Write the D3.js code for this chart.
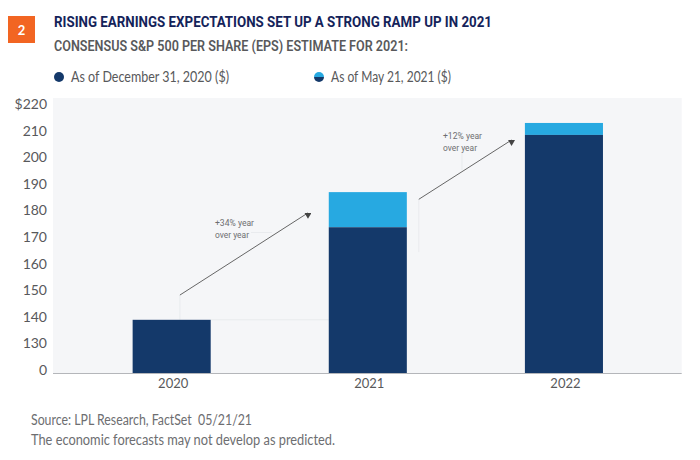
<!DOCTYPE html>
<html><head><meta charset="utf-8">
<script src="https://cdnjs.cloudflare.com/ajax/libs/d3/7.8.5/d3.min.js"></script>
<style>html,body{margin:0;padding:0;background:#fff}svg{display:block}text{font-family:Lato,sans-serif}</style>
</head><body><div id="c"></div>
<script>
const categories = ["2020","2021","2022"];
const december = [140, 174.8, 209.5];
const may = [140, 188, 214];
const tickValues = [120,130,140,150,160,170,180,190,200,210,220];
const tickLabels = ["0","130","140","150","160","170","180","190","200","210","$220"];
const titleText = "RISING EARNINGS EXPECTATIONS SET UP A STRONG RAMP UP IN 2021";
const subtitleText = "CONSENSUS S&P 500 PER SHARE (EPS) ESTIMATE FOR 2021:";
const legendLabels = ["As of December 31, 2020 ($)","As of May 21, 2021 ($)"];
const sourceLines = ["Source: LPL Research, FactSet  05/21/21","The economic forecasts may not develop as predicted."];
const arrowLabels = [["+34% year","over year"],["+12% year","over year"]];
const arrowFrom = [[0.042,149.3],[1.26,185.3]];
const arrowTo = [[0.695,180.2],[1.733,207.6]];
const navy="#14396a", sky="#27a9e1";

const svg=d3.select("#c").append("svg").attr("width",700).attr("height",460);
const y=d3.scaleLinear().domain([120,220]).range([373,107]);
const x=d3.scaleBand().domain(categories).range([73.6,662]).paddingInner(0.602).paddingOuter(0.301);
const pos=d3.scaleLinear().domain([0,2]).range([x("2020")+x.bandwidth()/2,x("2022")+x.bandwidth()/2]);

svg.append("rect").attr("x",53).attr("y",98).attr("width",628.7).attr("height",275).attr("fill","#f5f6f8");

// header
svg.append("rect").attr("x",8).attr("y",16).attr("width",27).attr("height",27).attr("fill","#f26522");
svg.append("text").attr("x",21.5).attr("y",35).attr("text-anchor","middle").attr("fill","#fff").attr("font-size",13).attr("font-weight",700).text("2");
svg.append("text").attr("x",54).attr("y",26.5).attr("fill","#14235a").attr("font-size",14).attr("font-weight",700).attr("textLength",438).attr("lengthAdjust","spacingAndGlyphs").style("font-family","Roboto").text(titleText);
svg.append("text").attr("x",54).attr("y",50.5).attr("fill","#58595b").attr("font-size",14).attr("font-weight",600).attr("textLength",354).attr("lengthAdjust","spacingAndGlyphs").style("font-family","Roboto").text(subtitleText);

// legend
const lg=[59,319], lt=[71,331];
svg.append("circle").attr("cx",lg[0]).attr("cy",77).attr("r",5).attr("fill",navy);
const defs=svg.append("defs");
const d=defs.append("linearGradient").attr("id","split").attr("x1",0).attr("x2",0).attr("y1",0).attr("y2",1);
[[0,sky],[.5,sky],[.5,navy],[1,navy]].forEach(s=>d.append("stop").attr("offset",s[0]).attr("stop-color",s[1]));
svg.append("circle").attr("cx",lg[1]).attr("cy",77).attr("r",5).attr("fill","url(#split)");
const legendWidths=[158,120];
legendLabels.forEach((t,i)=>svg.append("text").attr("x",lt[i]).attr("y",81.5).attr("fill","#58595b").attr("font-size",14.5).attr("textLength",legendWidths[i]).attr("lengthAdjust","spacingAndGlyphs").text(t));

// faint leaders
const faint="#e4e6ea";
const seg=(a,b,c,e)=>svg.append("line").attr("x1",a).attr("y1",b).attr("x2",c).attr("y2",e).attr("stroke",faint).attr("stroke-width",.7);
seg(pos(arrowFrom[0][0]),y(arrowFrom[0][1]),pos(arrowFrom[0][0]),y(may[0]));
seg(x("2020")+x.bandwidth(),y(may[0]),x("2021"),y(may[0]));
seg(pos(arrowFrom[1][0]),y(arrowFrom[1][1]),pos(arrowFrom[1][0]),y(may[1])+60);
seg(251,232.5,272,232.5);
seg(462,153,462,170);

// bars
svg.selectAll(".m").data(categories).join("rect").attr("class","m")
 .attr("x",c=>x(c)).attr("width",x.bandwidth())
 .attr("y",(c,i)=>y(may[i])).attr("height",(c,i)=>y(december[i])-y(may[i])).attr("fill",sky);
svg.selectAll(".b").data(categories).join("rect").attr("class","b")
 .attr("x",c=>x(c)).attr("width",x.bandwidth())
 .attr("y",(c,i)=>y(december[i])).attr("height",(c,i)=>y(120)-y(december[i])).attr("fill",navy);

// axes
const ay=svg.append("g").attr("transform","translate(53,0)").call(d3.axisLeft(y).tickValues(tickValues).tickFormat((v,i)=>tickLabels[i]).tickSize(0).tickPadding(6));
ay.select(".domain").remove();
ay.selectAll("text").attr("font-size",14).attr("fill","#58595b").attr("dy","0.1em").style("font-family","Lato");
const ax=svg.append("g").attr("transform","translate(0,373)").call(d3.axisBottom(x).tickSize(0).tickPadding(6));
ax.select(".domain").attr("stroke","#b4b6ba").attr("stroke-width",1.2).attr("d","M53,0.5H681.7");
ax.selectAll("text").attr("font-size",13).attr("fill","#58595b").attr("dx","1.5").style("font-family","Lato");

// arrows
defs.append("marker").attr("id","ah").attr("viewBox","0 0 10 10").attr("refX",5).attr("refY",0).attr("markerWidth",7).attr("markerHeight",6).attr("markerUnits","userSpaceOnUse").attr("orient",0).attr("preserveAspectRatio","none").append("path").attr("d","M0,0H10L5,10Z").attr("fill","#444");
arrowFrom.forEach((f,i)=>{
 svg.append("line").attr("x1",pos(f[0])).attr("y1",y(f[1])).attr("x2",pos(arrowTo[i][0])).attr("y2",y(arrowTo[i][1])).attr("stroke","#666").attr("stroke-width",1).attr("marker-end","url(#ah)");
});
const lx=[215,443], ly=[226,139];
arrowLabels.forEach((ls,i)=>ls.forEach((t,j)=>svg.append("text").attr("x",lx[i]).attr("y",ly[i]+j*12).attr("fill","#6d6e71").attr("font-size",9.5).attr("textLength",j?34:39).attr("lengthAdjust","spacingAndGlyphs").style("font-family","Roboto").text(t)));

// footer
const footWidths=[221,304];
sourceLines.forEach((t,i)=>svg.append("text").attr("x",31).attr("y",424.5+i*20.5).attr("fill","#6d6e71").attr("font-size",14.5).attr("textLength",footWidths[i]).attr("lengthAdjust","spacingAndGlyphs").style("white-space","pre").text(t));
</script></body></html>
